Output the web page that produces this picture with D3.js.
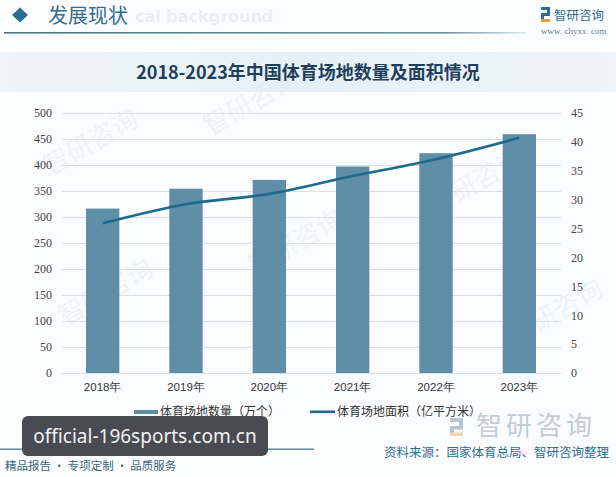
<!DOCTYPE html>
<html>
<head>
<meta charset="utf-8">
<script src="https://cdn.jsdelivr.net/npm/d3@7.9.0/dist/d3.min.js"></script>
<style>
  html, body { margin: 0; padding: 0; background: #fbfcfd; }
  svg { display: block; font-family: "Noto Sans CJK SC", "Noto Sans", sans-serif; }
</style>
</head>
<body>
<svg id="chart" width="616" height="477"></svg>
<script>
// data
const years = ['2018年', '2019年', '2020年', '2021年', '2022年', '2023年'];
const venueCount = [316.2, 354.4, 371.3, 397.1, 422.7, 459.3];   // 万个
const venueArea = [25.9, 29.2, 31.0, 34.1, 37.0, 40.7];          // 亿平方米
const leftTicks = [0, 50, 100, 150, 200, 250, 300, 350, 400, 450, 500];
const rightTicks = [0, 5, 10, 15, 20, 25, 30, 35, 40, 45];
const seriesNames = ['体育场地数量（万个）', '体育场地面积（亿平方米）'];

const barColor = '#5e8ea8';
const lineColor = '#1d6a8b';

const svg = d3.select('#chart');
const W = 616, H = 477;

// background + title band
const defs = svg.append('defs');
const band = defs.append('linearGradient').attr('id', 'band').attr('x1', 0).attr('x2', 1);
band.append('stop').attr('offset', '0%').attr('stop-color', '#eef5f8');
band.append('stop').attr('offset', '50%').attr('stop-color', '#e6f0f5');
band.append('stop').attr('offset', '100%').attr('stop-color', '#eef5f8');
const rule = defs.append('linearGradient').attr('id', 'rule').attr('x1', 0).attr('x2', 1);
rule.append('stop').attr('offset', '0%').attr('stop-color', '#4f7688');
rule.append('stop').attr('offset', '85%').attr('stop-color', '#6f93a3');
rule.append('stop').attr('offset', '100%').attr('stop-color', '#6f93a3').attr('stop-opacity', 0.2);

svg.append('rect').attr('width', W).attr('height', H).attr('fill', '#fbfcfd');
svg.append('rect').attr('x', 0).attr('y', 52).attr('width', W).attr('height', 40).attr('fill', 'url(#band)');

// faint watermarks
[[95, 150], [255, 110], [110, 300], [300, 250], [480, 190], [560, 320]].forEach(([x, y]) => {
  svg.append('text').attr('x', x).attr('y', y)
    .attr('transform', `rotate(-30,${x},${y})`)
    .attr('text-anchor', 'middle')
    .attr('font-size', 26).attr('fill', '#e3ecf0').attr('opacity', 0.55)
    .text('智研咨询');
});

// header
svg.append('path')
  .attr('d', 'M20,7.5 L28,15 L20,22.5 L12,15 Z')
  .attr('fill', '#2f6d92');
svg.append('text').attr('x', 135).attr('y', 22)
  .attr('font-family', 'DejaVu Sans').attr('font-weight', 'bold')
  .attr('font-size', 16).attr('fill', '#e8eef1').text('cal background');
svg.append('text').attr('x', 48).attr('y', 22.5)
  .attr('font-size', 20).attr('fill', '#2f6d92').text('发展现状');
svg.append('rect').attr('x', 4).attr('y', 32).attr('width', 522).attr('height', 1.6).attr('fill', 'url(#rule)');

// top-right logo
const logo = svg.append('g');
logo.append('rect').attr('x', 541).attr('y', 7).attr('width', 9).attr('height', 3).attr('fill', '#2f6d92');
logo.append('rect').attr('x', 547).attr('y', 7).attr('width', 3).attr('height', 8).attr('fill', '#2f6d92');
logo.append('rect').attr('x', 541).attr('y', 13).attr('width', 9).attr('height', 3).attr('fill', '#2f6d92');
logo.append('rect').attr('x', 541).attr('y', 16).attr('width', 3).attr('height', 5).attr('fill', '#2f6d92');
logo.append('rect').attr('x', 541).attr('y', 19).attr('width', 9).attr('height', 3).attr('fill', '#e2a33a');
logo.append('text').attr('x', 554).attr('y', 20).attr('font-size', 12.5).attr('fill', '#2f6d92').text('智研咨询');
logo.append('text').attr('x', 541).attr('y', 34).attr('font-family', 'Liberation Serif')
  .attr('font-size', 9).attr('fill', '#6b7d86').text('www. chyxx. com');

// title
svg.append('text').attr('x', 308).attr('y', 79)
  .attr('text-anchor', 'middle')
  .attr('font-size', 18).attr('font-weight', 'bold').attr('fill', '#1e3f5c')
  .text('2018-2023年中国体育场地数量及面积情况');

// plot
const plot = { left: 61, right: 561, top: 113, bottom: 373 };
const x = d3.scaleBand().domain(years).range([plot.left, plot.right]).paddingInner(0.6).paddingOuter(0.3);
const yL = d3.scaleLinear().domain([0, 500]).range([plot.bottom, plot.top]);
const yR = d3.scaleLinear().domain([0, 45]).range([plot.bottom, plot.top]);

// gridlines
svg.append('g').selectAll('line').data(leftTicks).join('line')
  .attr('x1', plot.left).attr('x2', plot.right)
  .attr('y1', d => yL(d) + 0.5).attr('y2', d => yL(d) + 0.5)
  .attr('stroke', '#dadfe2').attr('stroke-width', 1);

// left axis
const axisL = svg.append('g').attr('transform', `translate(${plot.left},0)`)
  .call(d3.axisLeft(yL).tickValues(leftTicks).tickSize(0).tickPadding(9));
axisL.select('.domain').remove();
axisL.selectAll('text').attr('font-family', 'Liberation Serif').attr('font-size', 12).attr('fill', '#444');

// right axis
const axisR = svg.append('g').attr('transform', `translate(${plot.right},0)`)
  .call(d3.axisRight(yR).tickValues(rightTicks).tickSize(0).tickPadding(10));
axisR.select('.domain').remove();
axisR.selectAll('text').attr('font-family', 'Liberation Serif').attr('font-size', 12).attr('fill', '#444');

// bars
svg.append('g').selectAll('rect').data(venueCount).join('rect')
  .attr('x', (d, i) => x(years[i]))
  .attr('y', d => yL(d))
  .attr('width', x.bandwidth())
  .attr('height', d => yL(0) - yL(d))
  .attr('fill', barColor);

// x axis labels
const axisX = svg.append('g').attr('transform', `translate(0,${plot.bottom})`)
  .call(d3.axisBottom(x).tickSize(0).tickPadding(10));
axisX.select('.domain').remove();
axisX.selectAll('text').attr('font-size', 11.5).attr('fill', '#333');

// line
const line = d3.line()
  .x((d, i) => x(years[i]) + x.bandwidth() / 2)
  .y(d => yR(d))
  .curve(d3.curveMonotoneX);
svg.append('path').datum(venueArea)
  .attr('d', line)
  .attr('fill', 'none')
  .attr('stroke', lineColor)
  .attr('stroke-width', 2.6);

// legend
const lg = svg.append('g');
lg.append('rect').attr('x', 134).attr('y', 410).attr('width', 24).attr('height', 4).attr('fill', barColor);
lg.append('text').attr('x', 160).attr('y', 416).attr('font-size', 12).attr('fill', '#333').text(seriesNames[0]);
lg.append('rect').attr('x', 310).attr('y', 410.5).attr('width', 25).attr('height', 2.6).attr('fill', lineColor);
lg.append('text').attr('x', 337).attr('y', 416).attr('font-size', 12).attr('fill', '#333').text(seriesNames[1]);

// bottom logo watermark
const bl = svg.append('g').attr('opacity', 0.75);
bl.append('rect').attr('x', 450).attr('y', 418).attr('width', 13).attr('height', 4).attr('fill', '#9fb6c6');
bl.append('rect').attr('x', 459).attr('y', 418).attr('width', 4).attr('height', 10).attr('fill', '#9fb6c6');
bl.append('rect').attr('x', 450).attr('y', 426).attr('width', 13).attr('height', 3.5).attr('fill', '#9fb6c6');
bl.append('rect').attr('x', 450).attr('y', 429).attr('width', 4).attr('height', 5).attr('fill', '#9fb6c6');
bl.append('rect').attr('x', 450).attr('y', 432.5).attr('width', 13).attr('height', 3.5).attr('fill', '#e9c896');
bl.append('text').attr('x', 476).attr('y', 435).attr('font-size', 26).attr('letter-spacing', 4)
  .attr('fill', '#aebdc7').text('智研咨询');

// footer
svg.append('rect').attr('x', 0).attr('y', 448.5).attr('width', 314).attr('height', 1.4).attr('fill', '#5d7f8e');
svg.append('text').attr('x', 5).attr('y', 470).attr('font-size', 11.5).attr('fill', '#3d6878')
  .text('精品报告 · 专项定制 · 品质服务');
svg.append('text').attr('x', 609).attr('y', 457).attr('text-anchor', 'end')
  .attr('font-size', 12.5).attr('fill', '#2e6f96')
  .text('资料来源：国家体育总局、智研咨询整理');

// overlay label
svg.append('rect').attr('x', 22).attr('y', 416).attr('width', 246).attr('height', 40).attr('rx', 6)
  .attr('fill', '#4a4a53');
svg.append('text').attr('x', 145).attr('y', 442.5).attr('text-anchor', 'middle')
  .attr('font-family', 'Noto Sans').attr('font-size', 19).attr('fill', '#f2f2f2')
  .text('official-196sports.com.cn');
</script>
</body>
</html>
